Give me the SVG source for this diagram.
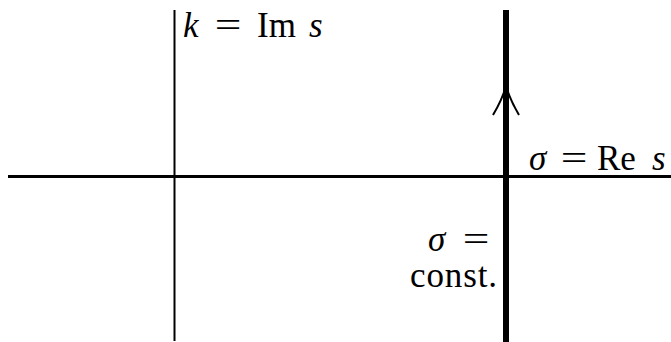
<svg xmlns="http://www.w3.org/2000/svg" width="671" height="342" viewBox="0 0 671 342">
<style>
.t{font-family:"Liberation Serif","DejaVu Serif",serif;font-size:35px;fill:#000}
.i{font-style:italic}
.m{text-anchor:middle}
</style>
<rect width="671" height="342" fill="#fff"/>
<g id="connectors" stroke="#000" fill="none">
<line id="re-axis" x1="8" y1="176.5" x2="671" y2="176.5" stroke-width="3"/>
<line id="im-axis" x1="174.5" y1="10" x2="174.5" y2="341" stroke-width="2"/>
<line id="contour" x1="506" y1="10" x2="506" y2="342" stroke-width="6"/>
<path id="arrow" d="M493,115 Q502,100 506,86 Q510,100 519,115" stroke-width="2"/>
</g>
<g id="label-im">
<text class="t i" x="183" y="37">k</text>
<text class="t m" transform="translate(228,37) scale(1.35,1)">=</text>
<text class="t" x="257" y="37">Im</text>
<text class="t i" x="309" y="37">s</text>
</g>
<g id="label-re">
<text class="t i" x="529" y="170">σ</text>
<text class="t m" transform="translate(574,170) scale(1.35,1)">=</text>
<text class="t" x="597" y="170">Re</text>
<text class="t i" x="652" y="170">s</text>
</g>
<g id="label-const">
<text class="t i" x="428" y="251">σ</text>
<text class="t m" transform="translate(476,251) scale(1.35,1)">=</text>
<text class="t" x="410" y="287" textLength="87" lengthAdjust="spacing">const.</text>
</g>
</svg>
